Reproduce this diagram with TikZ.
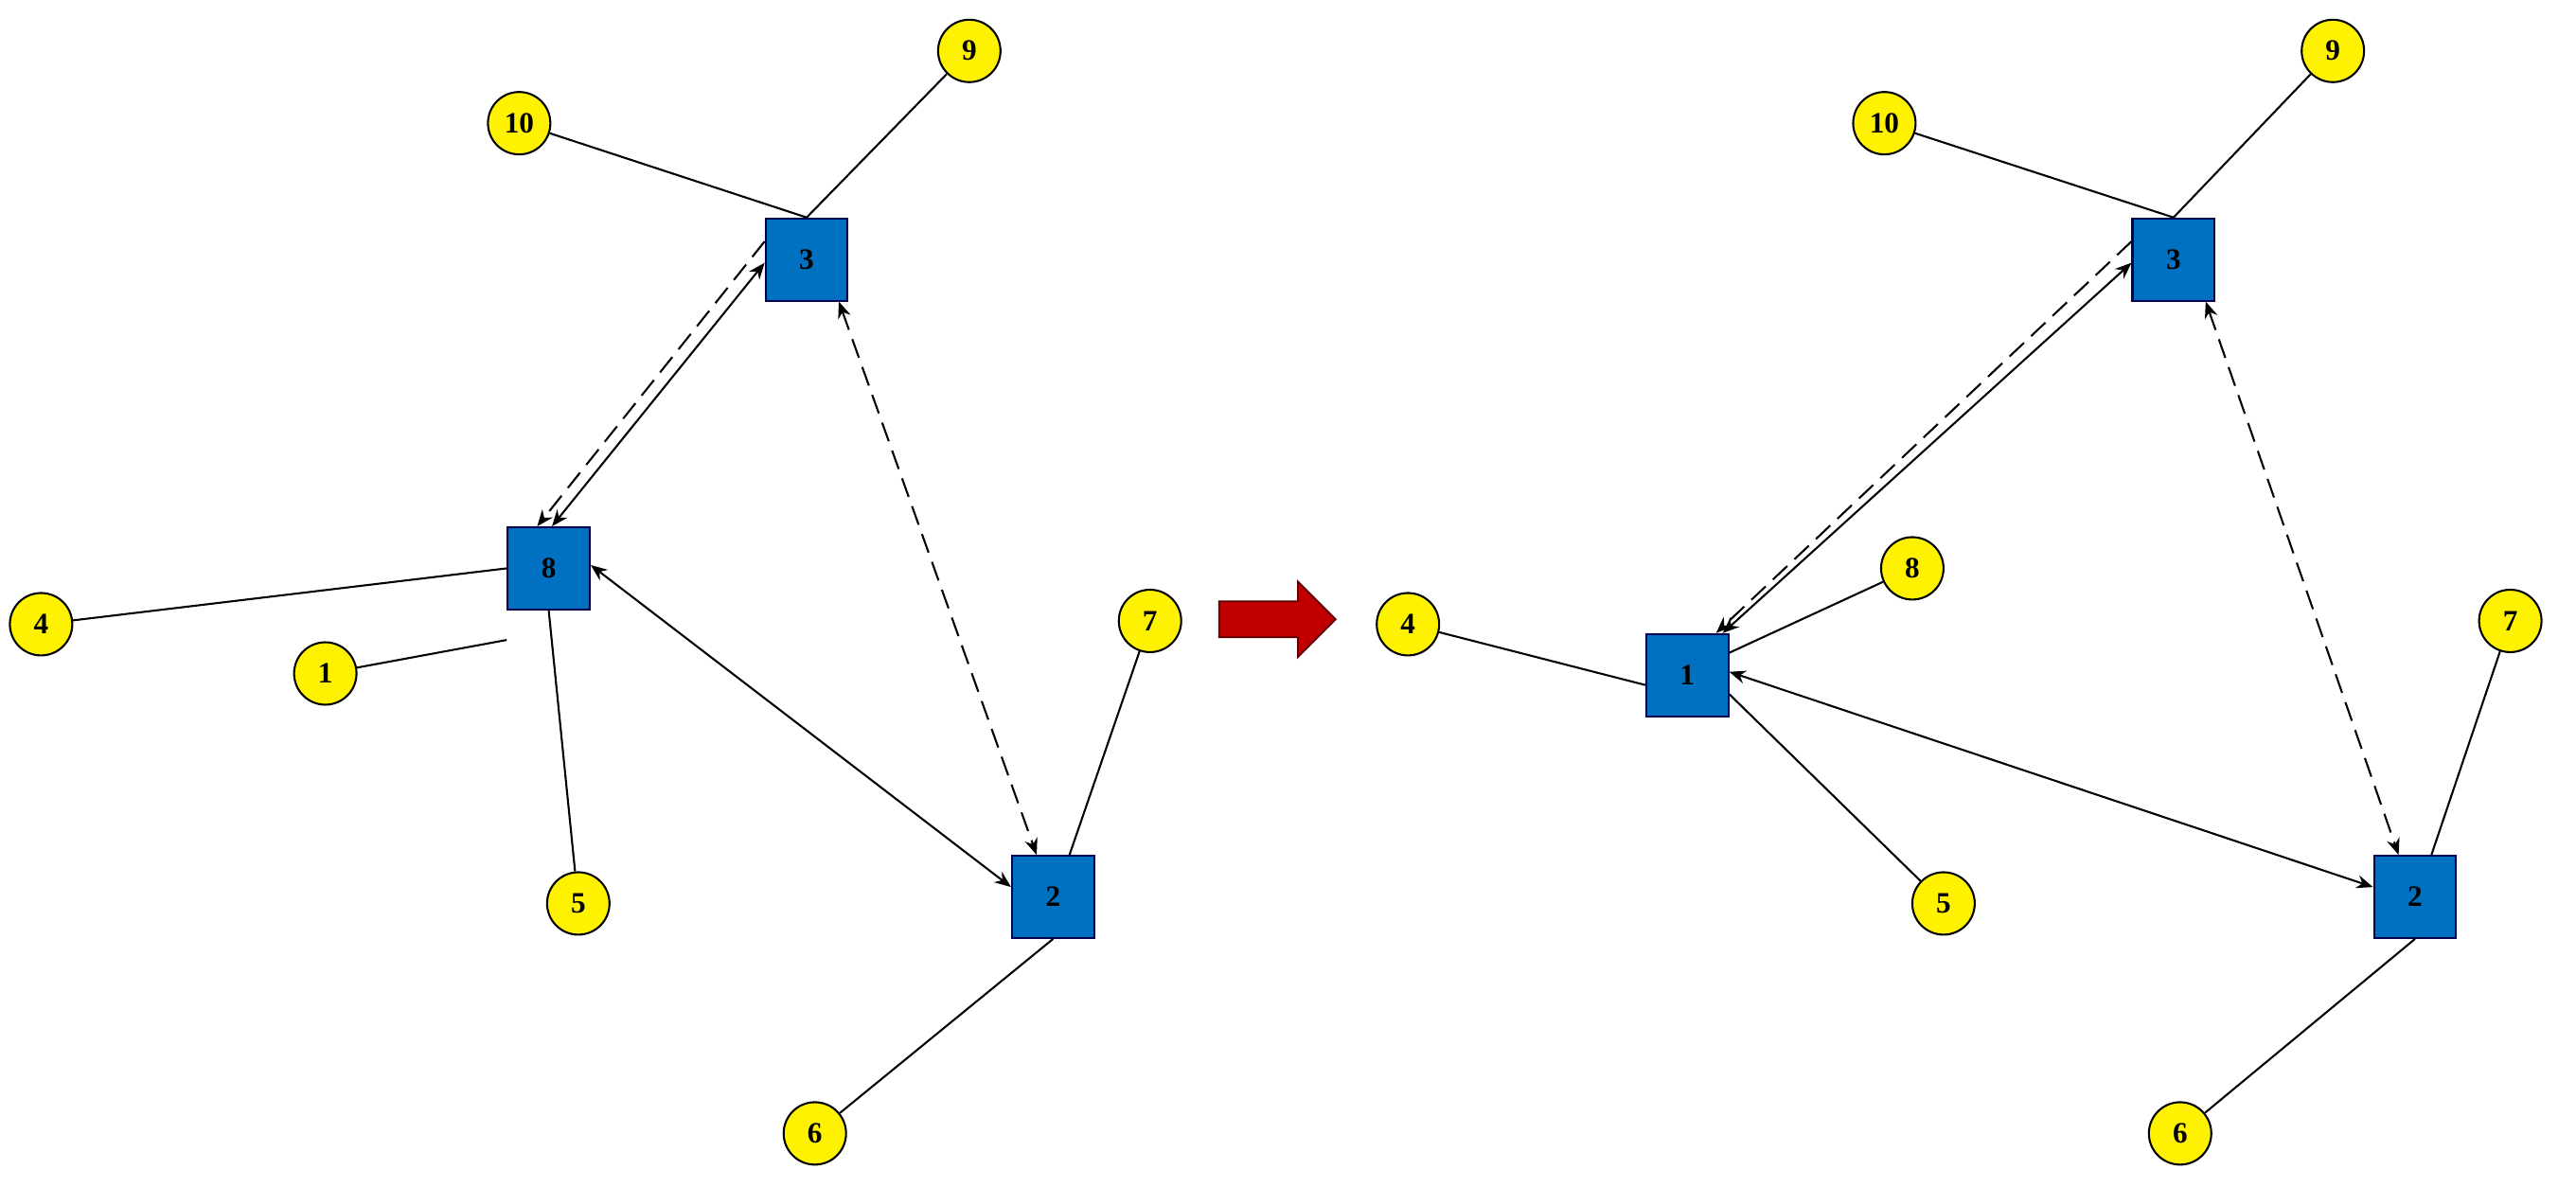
\documentclass[tikz,border=0pt]{standalone}
\usepackage{fontspec}
\setmainfont{Liberation Serif}
\usetikzlibrary{arrows.meta}
\begin{document}
\begin{tikzpicture}[x=0.5pt,y=-0.5pt,
  sq/.style={draw=blue!30!black,fill={rgb,255:red,0;green,112;blue,192},minimum size=25pt,inner sep=0pt,line width=0.6pt,font=\bfseries\fontsize{9}{9}\selectfont},
  ci/.style={circle,draw=black,fill=yellow,minimum size=19pt,inner sep=0pt,line width=0.6pt,font=\bfseries\fontsize{9}{9}\selectfont},
  ln/.style={line width=0.6pt},
  tip/.style={-{Stealth[length=5pt,width=4pt]}},
  tips/.style={{Stealth[length=5pt,width=4pt]}-{Stealth[length=5pt,width=4pt]}},
  dsh/.style={dash pattern=on 6pt off 3pt}]
\useasboundingbox (0,0) rectangle (1568,722.6);
% ---------- left graph
\node[sq] (L3) at (491,158) {3};
\node[sq] (L8) at (334,346) {8};
\node[sq] (L2) at (641,546) {2};
\node[ci] (L10) at (316,75) {10};
\node[ci] (L9) at (590,31) {9};
\node[ci] (L4) at (25,380) {4};
\node[ci] (L1) at (198,410) {1};
\node[ci] (L5) at (352,550) {5};
\node[ci] (L7) at (700,378) {7};
\node[ci] (L6) at (496,690) {6};
\draw[ln] (L10) -- (L3.north);
\draw[ln] (L9) -- (L3.north);
\draw[ln,tips] ([xshift=1pt]L8.north) -- ([yshift=-1pt]L3.west);
\draw[ln,dsh,tip] ([yshift=5.5pt]L3.west) -- ([xshift=-3.5pt]L8.north);
\draw[ln,dsh,tips] ([xshift=-3pt]L3.south east) -- ([xshift=-5pt]L2.north);
\draw[ln,tips] ([yshift=1pt]L8.east) -- ([yshift=3pt]L2.west);
\draw[ln] (L4) -- ([yshift=0.5pt]L8.north west |- 0,347);
\draw[ln] (L1) -- ([yshift=-9pt]L8.south west);
\draw[ln] (L5) -- (L8.south);
\draw[ln] (L7) -- ([xshift=5pt]L2.north);
\draw[ln] (L6) -- (L2.south);
% ---------- arrow
\coordinate (A0) at (742,377);
\fill[fill={rgb,255:red,192;green,0;blue,0},draw={rgb,255:red,90;green,0;blue,0},line width=0.5pt]
  (742,366) -- (790,366) -- (790,354) -- (813,377) -- (790,400) -- (790,388) -- (742,388) -- cycle;
% ---------- right graph
\node[sq] (R3) at (1323,158) {3};
\node[sq] (R1) at (1027,411) {1};
\node[sq] (R2) at (1470,546) {2};
\node[ci] (R10) at (1147,75) {10};
\node[ci] (R9) at (1420,31) {9};
\node[ci] (R4) at (857,380) {4};
\node[ci] (R8) at (1164,346) {8};
\node[ci] (R5) at (1183,550) {5};
\node[ci] (R7) at (1528,378) {7};
\node[ci] (R6) at (1327,690) {6};
\draw[ln] (R10) -- (R3.north);
\draw[ln] (R9) -- (R3.north);
\draw[ln,tips] ([xshift=-2pt]R1.north east) -- ([yshift=-1pt]R3.west);
\draw[ln,dsh,tip] ([yshift=5.5pt]R3.west) -- ([xshift=-4pt]R1.north east);
\draw[ln,dsh,tips] ([xshift=-3pt]R3.south east) -- ([xshift=-5pt]R2.north);
\draw[ln,tips] ([yshift=1pt]R1.east) -- ([yshift=3pt]R2.west);
\draw[ln] (R4) -- ([yshift=-3pt]R1.west);
\draw[ln] (R8) -- ([yshift=-6pt]R1.north east);
\draw[ln] (R5) -- ([yshift=7pt]R1.south east);
\draw[ln] (R7) -- ([xshift=5pt]R2.north);
\draw[ln] (R6) -- (R2.south);
\end{tikzpicture}
\end{document}
